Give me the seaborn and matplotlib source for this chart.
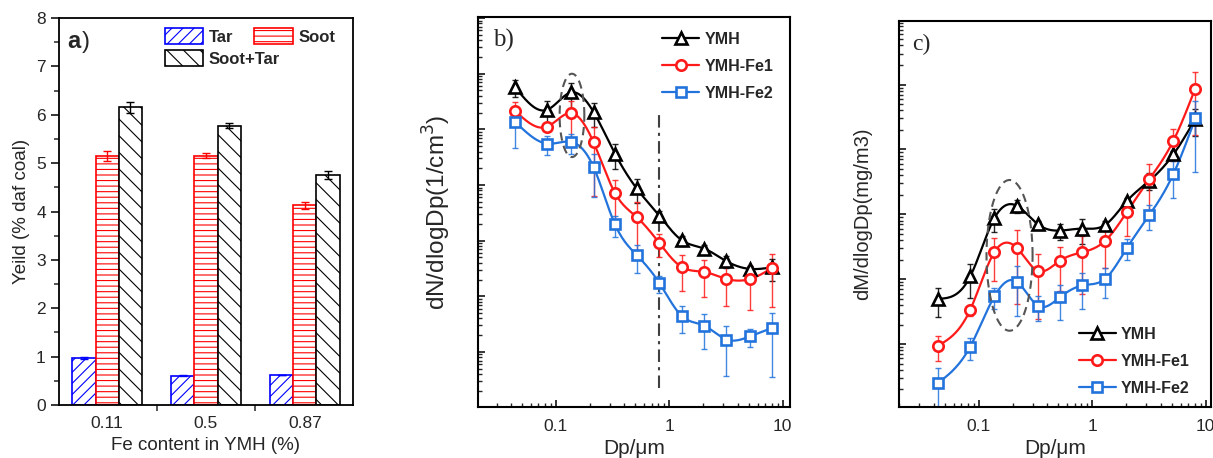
import numpy as np
import pandas as pd
import matplotlib
matplotlib.use("Agg")
import matplotlib.pyplot as plt
import seaborn as sns
from matplotlib.lines import Line2D
from matplotlib.ticker import LogLocator, NullFormatter, FixedLocator

# ---------------- data ----------------
# panel a
fe_content = ["0.11", "0.5", "0.87"]
yield_types = ["Tar", "Soot", "Soot+Tar"]
tar_yield = [0.98, 0.60, 0.62]
soot_yield = [5.15, 5.15, 4.13]
sum_yield = [6.15, 5.77, 4.76]
tar_err = [0.02, 0.01, 0.01]
soot_err = [0.10, 0.05, 0.07]
sum_err = [0.12, 0.05, 0.08]

# panels b, c : particle stage diameters (um)
dp = [0.0437, 0.0840, 0.137, 0.215, 0.332, 0.515, 0.816, 1.295, 2.03, 3.19, 5.18, 8.07]
series_names = ["YMH", "YMH-Fe1", "YMH-Fe2"]

# b) number distribution dN/dlogDp
dn_ymh = [5.75e5, 2.25e5, 4.62e5, 2.05e5, 3.66e4, 8.7e3, 2.81e3, 1.01e3, 718, 426, 310, 332]
dn_fe1 = [2.16e5, 1.12e5, 1.96e5, 5.84e4, 7.18e3, 2.66e3, 908, 332, 274, 205, 205, 323]
dn_fe2 = [1.37e5, 5.53e4, 5.92e4, 2.10e4, 1.96e3, 553, 174, 43.7, 29.7, 16.7, 19.1, 27.0]
dn_ymh_err = [2.0e5, 1.05e5, 2.2e5, 9.5e4, 1.7e4, 3.9e3, 5.5e2, 2.2e2, 1.0e2, 1.0e2, 4.0e1, 1.4e2]
dn_fe1_err = [9.0e4, 2.0e4, 1.3e5, 5.2e4, 5.0e3, 2.2e3, 4.0e2, 2.1e2, 1.75e2, 1.37e2, 1.49e2, 2.58e2]
dn_fe2_err = [9.0e4, 2.0e4, 2.3e4, 1.5e4, 8.0e2, 2.96e2, 6.0e1, 2.2e1, 1.85e1, 1.3e1, 7.0, 2.35e1]

# c) mass distribution dM/dlogDp
dm_ymh = [4.98e-3, 1.10e-2, 8.67e-2, 0.136, 7.0e-2, 5.61e-2, 6.02e-2, 6.85e-2, 0.162, 0.330, 0.837, 2.93]
dm_fe1 = [9.42e-4, 3.37e-3, 2.60e-2, 3.07e-2, 1.34e-2, 1.91e-2, 2.60e-2, 3.89e-2, 0.110, 0.350, 1.36, 8.68]
dm_fe2 = [2.51e-4, 9.10e-4, 5.41e-3, 9.2e-3, 3.89e-3, 5.22e-3, 8.0e-3, 1.01e-2, 3.07e-2, 9.77e-2, 0.418, 3.00]
dm_ymh_err = [2.4e-3, 5.9e-3, 3.4e-2, 3.0e-2, 8.0e-3, 1.6e-2, 2.5e-2, 1.0e-2, 1.5e-2, 9.7e-2, 1.0e-1, 1.3]
dm_fe1_err = [4.0e-4, 7.0e-4, 1.65e-2, 2.66e-2, 1.1e-2, 1.25e-2, 2.0e-2, 2.4e-2, 6.3e-2, 0.24, 0.70, 7.0]
dm_fe2_err = [1.8e-4, 3.35e-4, 1.9e-3, 6.5e-3, 1.6e-3, 2.9e-3, 4.5e-3, 5.0e-3, 1.07e-2, 4.0e-2, 0.24, 2.55]

# ---------------- style ----------------
sns.set_theme(style="ticks")
plt.rcParams["font.family"] = ["Liberation Sans", "DejaVu Sans"]
plt.rcParams["hatch.linewidth"] = 0.8
plt.rcParams["axes.linewidth"] = 1.3

RED = "#ff1a1a"
BLUE = "#2273dc"
BLACK = "#000000"
colors = [BLACK, RED, BLUE]
markers = ["^", "o", "s"]
msizes = [8.5, 7.5, 6.5]

fig = plt.figure(figsize=(12.13, 4.58), dpi=100)
ax_a = fig.add_axes([0.0486, 0.1157, 0.2424, 0.845])
ax_b = fig.add_axes([0.3941, 0.1114, 0.2572, 0.8515])
ax_c = fig.add_axes([0.7411, 0.1114, 0.2572, 0.8428])

# ---------------- panel a ----------------
df_a = pd.DataFrame({
    "fe": fe_content * 3,
    "type": [t for t in yield_types for _ in fe_content],
    "yield": tar_yield + soot_yield + sum_yield,
})
bar_colors = {"Tar": "#0000ff", "Soot": "#ff0000", "Soot+Tar": "#000000"}
hatches = {"Tar": "///", "Soot": "---", "Soot+Tar": "\\\\"}
sns.barplot(data=df_a, x="fe", y="yield", hue="type", hue_order=yield_types,
            palette=bar_colors, fill=False, width=0.705, gap=0, linewidth=1.2,
            errorbar=None, legend=False, ax=ax_a)
errs = [tar_err, soot_err, sum_err]
for cont, t, err in zip(ax_a.containers, yield_types, errs):
    xs, hs = [], []
    for p in cont.patches:
        p.set_hatch(hatches[t])
        p.set_edgecolor(bar_colors[t])
        p.set_facecolor("white")
        p.set_fill(True)
        xs.append(p.get_x() + p.get_width() / 2)
        hs.append(p.get_height())
    ax_a.errorbar(xs, hs, yerr=err, fmt="none", ecolor=bar_colors[t],
                  elinewidth=1.0, capsize=3, capthick=1.0, zorder=5)
ax_a.set_ylim(0, 8)
ax_a.set_yticks(range(0, 9))
ax_a.yaxis.set_minor_locator(FixedLocator(np.arange(0.5, 8, 1.0)))
ax_a.xaxis.set_minor_locator(FixedLocator([-0.5, 0.5, 1.5, 2.5]))
ax_a.tick_params(axis="y", which="major", direction="out", length=6, width=1.3, labelsize=12.5)
ax_a.tick_params(axis="y", which="minor", direction="out", length=3.5, width=1.1)
ax_a.tick_params(axis="x", which="major", length=0, labelsize=12.5, pad=8)
ax_a.tick_params(axis="x", which="minor", direction="out", length=4, width=1.1)
ax_a.set_xlabel("Fe content in YMH (%)", fontsize=13.5, labelpad=4)
ax_a.set_ylabel("Yeild (% daf coal)", fontsize=13.5, labelpad=4)
for s in ax_a.spines.values():
    s.set_visible(True)
    s.set_color("black")

handles_a = [ax_a.containers[0].patches[0], ax_a.containers[2].patches[0], ax_a.containers[1].patches[0]]
labels_a = ["Tar", "Soot+Tar", "Soot"]
leg_a = ax_a.legend(handles_a, labels_a, ncol=2, loc="upper left",
                    bbox_to_anchor=(0.331, 0.995), frameon=False,
                    handlelength=2.3, handleheight=1.1, handletextpad=0.35,
                    columnspacing=-1.55, labelspacing=0.3, borderpad=0,
                    prop={"weight": "bold", "size": 12})
ax_a.text(0.027, 0.922, "a", transform=ax_a.transAxes, fontsize=17,
          fontweight="bold", va="baseline", ha="left")
ax_a.text(0.077, 0.922, ")", transform=ax_a.transAxes, fontsize=17,
          va="baseline", ha="left")


# ---------------- helpers for b, c ----------------
def natural_spline(xk, yk, xs):
    xk = np.asarray(xk, float)
    yk = np.asarray(yk, float)
    n = len(xk)
    h = np.diff(xk)
    A = np.zeros((n, n))
    r = np.zeros(n)
    A[0, 0] = A[-1, -1] = 1
    for i in range(1, n - 1):
        A[i, i - 1] = h[i - 1]
        A[i, i] = 2 * (h[i - 1] + h[i])
        A[i, i + 1] = h[i]
        r[i] = 3 * ((yk[i + 1] - yk[i]) / h[i] - (yk[i] - yk[i - 1]) / h[i - 1])
    c = np.linalg.solve(A, r)
    b = (yk[1:] - yk[:-1]) / h - h * (2 * c[:-1] + c[1:]) / 3
    d = (c[1:] - c[:-1]) / (3 * h)
    idx = np.clip(np.searchsorted(xk, xs) - 1, 0, n - 2)
    dx = xs - xk[idx]
    return yk[idx] + b[idx] * dx + c[idx] * dx ** 2 + d[idx] * dx ** 3


def draw_series(ax, x, ys, errs):
    lx = np.log10(x)
    xs = np.linspace(lx[0], lx[-1], 400)
    for y, e, col, mk, ms in zip(ys, errs, colors, markers, msizes):
        ly = np.log10(y)
        ys_s = natural_spline(lx, ly, xs)
        sns.lineplot(x=10 ** xs, y=10 ** ys_s, ax=ax, color=col, lw=1.6,
                     sort=False, estimator=None, zorder=3)
        ax.errorbar(x, y, yerr=e, fmt="none", ecolor=col, elinewidth=1.0,
                    capsize=2, capthick=1.0, zorder=2, alpha=0.85)
        ax.plot(x, y, ls="none", marker=mk, ms=ms, mfc="white", mec=col,
                mew=1.9, zorder=4)


def style_log_axes(ax, xlim, ylim):
    ax.set_xscale("log")
    ax.set_yscale("log")
    ax.set_xlim(*xlim)
    ax.set_ylim(*ylim)
    ax.set_xticks([0.1, 1, 10])
    ax.set_xticklabels(["0.1", "1", "10"])
    ax.xaxis.set_minor_locator(LogLocator(base=10, subs=np.arange(2, 10)))
    ax.xaxis.set_minor_formatter(NullFormatter())
    ax.yaxis.set_major_locator(LogLocator(base=10, numticks=20))
    ax.yaxis.set_minor_locator(LogLocator(base=10, subs=np.arange(2, 10), numticks=20))
    ax.yaxis.set_major_formatter(NullFormatter())
    ax.yaxis.set_minor_formatter(NullFormatter())
    ax.tick_params(which="major", direction="in", length=5, width=1.3,
                   labelsize=12.5, pad=9)
    ax.tick_params(which="minor", direction="in", length=3, width=1.0)
    ax.tick_params(axis="x", which="both", top=False)
    ax.tick_params(axis="y", which="both", right=False)
    for s in ax.spines.values():
        s.set_visible(True)
        s.set_color("black")
        s.set_linewidth(1.5)
    ax.set_xlabel("Dp/μm", fontsize=15, labelpad=3)


def dashed_ellipse(ax, cx, cy, hw, hh):
    t = np.linspace(0, 2 * np.pi, 200)
    ax.plot(10 ** (cx + hw * np.cos(t)), 10 ** (cy + hh * np.sin(t)),
            color="#555555", lw=1.5, ls=(0, (4, 2.5)), zorder=5)


def series_legend(ax, anchor):
    handles = [Line2D([], [], color=c, marker=m, ms=ms, mfc="white", mec=c,
                      mew=1.9, lw=1.6) for c, m, ms in zip(colors, markers, msizes)]
    ax.legend(handles, series_names, loc="upper left", bbox_to_anchor=anchor,
              frameon=False, handlelength=2.3, handletextpad=0.35,
              labelspacing=0.75, borderpad=0, numpoints=1,
              prop={"weight": "bold", "size": 11.5})


# ---------------- panel b ----------------
draw_series(ax_b, dp, [dn_ymh, dn_fe1, dn_fe2], [dn_ymh_err, dn_fe1_err, dn_fe2_err])
style_log_axes(ax_b, (0.0206, 11.6), (10 ** 0.01, 10 ** 7.02))
ax_b.axvline(dp[6], ymin=0.049, ymax=0.762, color="#404040", lw=1.5,
             ls=(0, (6, 2.5, 1.5, 2.5)), zorder=1)
dashed_ellipse(ax_b, -0.858, 5.251, 0.109, 0.749)
ax_b.set_ylabel("dN/dlogDp(1/cm$^3$)", fontsize=17.5, labelpad=9)
series_legend(ax_b, (0.565, 0.982))
ax_b.text(0.048, 0.923, "b)", transform=ax_b.transAxes, fontsize=18,
          family=["Liberation Serif", "DejaVu Serif"], va="baseline")

# ---------------- panel c ----------------
draw_series(ax_c, dp, [dm_ymh, dm_fe1, dm_fe2], [dm_ymh_err, dm_fe1_err, dm_fe2_err])
style_log_axes(ax_c, (0.0198, 11.1), (10 ** -3.97, 10 ** 1.98))
dashed_ellipse(ax_c, -0.729, -1.633, 0.203, 1.162)
ax_c.set_ylabel("dM/dlogDp(mg/m3)", fontsize=14.5, labelpad=10)
series_legend(ax_c, (0.551, 0.228))
ax_c.text(0.042, 0.925, "c)", transform=ax_c.transAxes, fontsize=17,
          family=["Liberation Serif", "DejaVu Serif"], va="baseline")

fig.savefig("out.png", dpi=100)
